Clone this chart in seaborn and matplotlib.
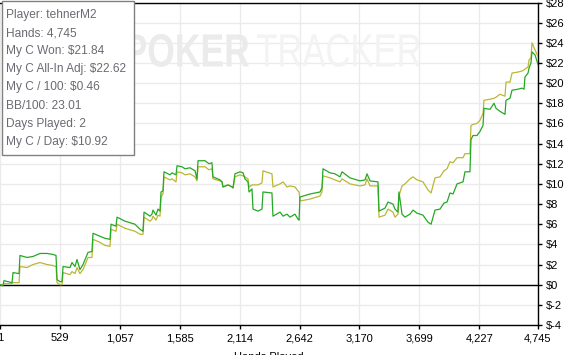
import numpy as np
import pandas as pd
import matplotlib
matplotlib.use("Agg")
import matplotlib.pyplot as plt
import seaborn as sns
from matplotlib.patches import Rectangle, PathPatch
from matplotlib.textpath import TextPath
from matplotlib.font_manager import FontProperties
from matplotlib.transforms import Affine2D, IdentityTransform
from matplotlib.ticker import FixedLocator, FuncFormatter

# ---------------- data ----------------
hands = [1, 27, 36, 72, 107, 116, 169, 177, 239, 292, 354, 415, 468, 495, 504, 530, 548, 557,
         618, 636, 662, 680, 706, 733, 777, 812, 821, 883, 927, 971, 980, 1024, 1033, 1103,
         1191, 1236, 1262, 1271, 1324, 1341, 1350, 1377, 1394, 1412, 1421, 1438, 1447, 1500,
         1518, 1553, 1562, 1606, 1632, 1676, 1721, 1738, 1747, 1809, 1844, 1870, 1879, 1941,
         1959, 1967, 2012, 2047, 2056, 2073, 2117, 2144, 2161, 2188, 2197, 2223, 2232, 2276,
         2311, 2320, 2399, 2408, 2470, 2497, 2532, 2558, 2602, 2629, 2638, 2646, 2735, 2823,
         2840, 2849, 2911, 2955, 2999, 3017, 3087, 3175, 3220, 3237, 3264, 3334, 3343, 3396,
         3422, 3466, 3484, 3510, 3519, 3546, 3572, 3616, 3643, 3678, 3731, 3775, 3802, 3837,
         3881, 3916, 3943, 3969, 3996, 4031, 4084, 4101, 4145, 4154, 4172, 4207, 4233, 4260,
         4269, 4322, 4357, 4375, 4410, 4454, 4463, 4498, 4516, 4569, 4604, 4622, 4630, 4657,
         4666, 4683, 4692, 4719, 4745]

won = [0, -0.1, 0.4, 0.3, 0.2, 1.2, 1.1, 2.9, 2.7, 2.8, 3.1, 3.1, 3.0, 2.9, 0.5, 0.3, 0.3, 1.8,
       1.7, 2.2, 1.8, 2.5, 1.5, 2.0, 3.2, 3.3, 5.1, 4.8, 4.6, 4.5, 6.0, 5.8, 6.7, 6.3,
       6.0, 5.5, 5.3, 7.2, 6.8, 7.0, 7.4, 6.9, 7.5, 7.3, 9.2, 9.3, 11.2, 10.9,
       11.1, 10.9, 11.8, 11.7, 11.5, 11.6, 11.3, 10.5, 12.3, 12.3, 12.0, 12.1, 10.7, 10.4,
       10.2, 9.7, 9.9, 9.7, 9.6, 11.0, 11.2, 11.1, 10.5, 10.2, 9.2, 9.5, 7.5, 7.3,
       7.5, 9.2, 9.1, 6.8, 7.2, 6.8, 7.0, 6.7, 7.0, 6.5, 6.4, 8.7, 9.0, 9.2,
       9.6, 11.5, 11.1, 11.0, 10.7, 11.2, 10.6, 10.3, 10.4, 11.0, 10.3, 10.2, 7.3, 7.6,
       8.2, 8.0, 7.5, 7.2, 9.2, 7.0, 6.7, 7.0, 7.4, 7.1, 6.9, 6.2, 6.0, 7.4,
       7.5, 8.1, 8.2, 9.1, 9.0, 10.0, 10.2, 11.2, 11.2, 14.4, 14.8, 14.8, 15.2, 15.8,
       17.5, 17.4, 18.0, 17.5, 17.2, 16.9, 18.3, 18.5, 19.3, 19.4, 19.5, 19.4, 20.6, 21.0,
       21.5, 22.0, 23.1, 22.8, 21.84]

allin = [0, 0, 0.1, 0.1, 0.1, 0.2, 0.2, 1.8, 1.7, 2.0, 2.2, 2.0, 1.9, 1.8, 0.2, 0.0, 0.0, 1.2,
         1.0, 1.3, 1.1, 1.7, 1.1, 1.5, 2.7, 2.7, 4.5, 4.2, 3.9, 3.8, 5.5, 5.3, 6.0, 5.6,
         5.3, 5.0, 5.0, 6.7, 6.3, 6.5, 6.8, 6.4, 6.9, 6.8, 8.7, 9.0, 10.7, 10.4,
         10.5, 10.2, 11.2, 11.1, 10.9, 11.0, 10.7, 10.3, 11.7, 11.7, 11.4, 11.5, 10.5, 10.3,
         10.2, 9.7, 9.9, 9.7, 9.6, 10.7, 10.9, 10.8, 10.7, 10.5, 9.7, 9.9, 9.9, 9.9,
         10.1, 11.3, 11.0, 9.7, 10.0, 10.2, 9.7, 9.8, 9.7, 9.3, 9.2, 8.3, 8.5, 8.8,
         9.2, 10.8, 10.6, 10.4, 10.2, 10.5, 10.0, 9.8, 9.9, 10.5, 9.8, 9.8, 6.7, 6.9,
         7.5, 7.2, 6.7, 7.0, 8.8, 9.8, 10.0, 10.5, 10.7, 10.4, 10.2, 9.4, 9.1, 10.6,
         10.7, 11.3, 11.5, 12.2, 12.1, 12.6, 12.6, 13.0, 13.0, 15.8, 15.9, 16.0, 16.3, 17.0,
         18.3, 18.4, 18.5, 18.6, 18.9, 18.7, 20.1, 20.1, 21.0, 21.1, 21.2, 21.3, 21.4, 21.6,
         22.3, 22.5, 24.0, 23.3, 22.62]

xtick_vals = [1, 529, 1057, 1585, 2114, 2642, 3170, 3699, 4227, 4745]
ytick_vals = list(range(-4, 29, 2))
info_lines = ["Player: tehnerM2", "Hands: 4,745", "My C Won: $21.84",
              "My C All-In Adj: $22.62", "My C / 100: $0.46", "BB/100: 23.01",
              "Days Played: 2", "My C / Day: $10.92"]
x_label = "Hands Played"

assert len(hands) == len(won) == len(allin)

# ---------------- style ----------------
sns.set_style("white")
plt.rcParams['font.family'] = ['Liberation Sans', 'DejaVu Sans']

W, H = 573, 355
fig = plt.figure(figsize=(W / 100, H / 100), dpi=100)
ax = fig.add_axes([0 / W, 1 - 325 / H, 538 / W, (325 - 2.5) / H])

df = pd.DataFrame({
    "Hands": hands * 2,
    "Value": allin + won,
    "Series": ["All-In Adj"] * len(hands) + ["Won"] * len(hands),
})
sns.lineplot(data=df, x="Hands", y="Value", hue="Series",
             palette={"All-In Adj": "#bcb634", "Won": "#25a825"},
             linewidth=0.9, legend=False, ax=ax, estimator=None, sort=False,
             zorder=3)

ax.axhline(0, color="black", lw=1.0, zorder=2)

ax.set_xlim(1, 4745)
ax.set_ylim(-4, 28)
ax.xaxis.set_major_locator(FixedLocator(xtick_vals))
ax.xaxis.set_major_formatter(FuncFormatter(lambda v, p: f"{int(round(v)):,}"))
ax.yaxis.set_major_locator(FixedLocator(ytick_vals))
ax.yaxis.set_major_formatter(FuncFormatter(lambda v, p: "\\$" + f"{int(round(v))}"))
ax.yaxis.tick_right()

ax.grid(True, color="#ebebeb", lw=1)
ax.set_axisbelow(True)
for side in ["top", "right", "bottom"]:
    ax.spines[side].set_visible(True)
    ax.spines[side].set_color("black")
    ax.spines[side].set_linewidth(1.0)
ax.spines["left"].set_visible(False)

ax.tick_params(axis="x", bottom=True, direction="out", length=3, width=1,
               color="black", labelsize=8, pad=3, labelcolor="black")
ax.tick_params(axis="y", right=True, left=False, labelright=True, labelleft=False,
               direction="out", length=3, width=1, color="black", labelsize=8,
               pad=3, labelcolor="black")
ax.set_xlabel(x_label, fontsize=8, labelpad=6, color="black")
ax.set_ylabel("")

# ---------------- watermark ----------------
def add_word(word, weight, x0, x1, ytop, ybase, color):
    tp = TextPath((0, 0), word, size=100,
                  prop=FontProperties(family="Liberation Sans", weight=weight))
    ext = tp.get_extents()
    sx = (x1 - x0) / ext.width
    sy = (ybase - ytop) / ext.height
    tr = (Affine2D().translate(-ext.x0, -ext.y0).scale(sx, sy)
          .translate(x0, H - ybase) + IdentityTransform())
    ax.add_patch(PathPatch(tp, transform=tr, facecolor=color, edgecolor="none",
                           zorder=1))

add_word("POKER", "bold", 126, 249, 34, 67, "#ebebeb")
add_word("TRACKER", "normal", 257, 420, 34, 67, "#f3f3f3")
ax.set_xlim(1, 4745)
ax.set_ylim(-4, 28)

# ---------------- info box ----------------
fig.add_artist(Rectangle((1.5 / W, 1 - 155 / H), (133.5 - 1.5) / W, (155 - 0.5) / H,
                         transform=fig.transFigure, facecolor="white", alpha=1,
                         edgecolor="none", zorder=4))
fig.add_artist(Rectangle((1.5 / W, 1 - 155 / H), (133.5 - 1.5) / W, (155 - 0.5) / H,
                         transform=fig.transFigure, fill=False,
                         edgecolor="#808080", lw=1, zorder=5))
for i, line in enumerate(info_lines):
    fig.text(6 / W, 1 - (15 + 18.1 * i) / H, line.replace("$", "\\$"),
             ha="left", va="center", fontsize=8.6, color="#6a6a72", zorder=6)

fig.savefig("out.png", dpi=100)
